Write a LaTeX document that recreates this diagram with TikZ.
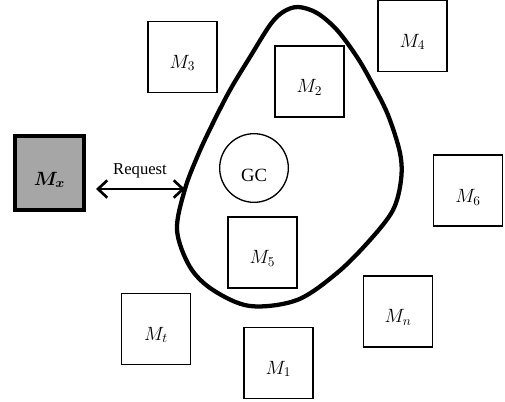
\documentclass[tikz,border=0pt]{standalone}
\usepackage{amsmath}
\usepackage{fontspec}
\setmainfont{Liberation Serif}
\usetikzlibrary{arrows.meta,calc}
\begin{document}
\begin{tikzpicture}[x=0.75pt,y=-0.75pt,
  mbox/.style={draw, line width=1.2pt, minimum width=52pt, minimum height=53pt, inner sep=0pt},
  mxbox/.style={draw, line width=3pt, fill=mxgray, minimum width=51.75pt, minimum height=55.5pt, inner sep=0pt},
  mlbl/.style={anchor=base, inner sep=0pt, font=\fontsize{14.5}{17}\selectfont},
  gcnode/.style={draw, circle, line width=1pt, minimum size=51.5pt, inner sep=0pt},
  txt/.style={anchor=base, inner sep=0pt},
  blob/.style={line width=3.2pt},
  reqarrow/.style={line width=2pt, {Straight Barb[length=7pt,width=13pt]}-{Straight Barb[length=7pt,width=13pt]}}
]
\definecolor{mxgray}{HTML}{A6A6A6}
\useasboundingbox (0,0) rectangle (505,401);

% boxes
\node[mxbox] (Mx) at (49.5,173) {};
\node[mbox] (M3) at (182.5,57) {};
\node[mbox] (M2) at (309.5,81.5) {};
\node[mbox] (M4) at (412.5,36) {};
\node[mbox] (M5) at (262.5,252.5) {};
\node[mbox] (M6) at (468,190.5) {};
\node[mbox] (Mn) at (398,311.5) {};
\node[mbox] (Mt) at (156,329) {};
\node[mbox] (M1) at (278.5,363) {};
\node[gcnode] (GC) at (254,168) {};

% labels
\node[mlbl] (LMx) at ($(Mx.center)+(0,12)$) {$\boldsymbol{M_x}$};
\node[mlbl] (L3) at ($(M3.center)+(0,11)$) {$M_3$};
\node[mlbl] (L2) at ($(M2.center)+(0,11)$) {$M_2$};
\node[mlbl] (L4) at ($(M4.center)+(0,11)$) {$M_4$};
\node[mlbl] (L5) at ($(M5.center)+(0,11)$) {$M_5$};
\node[mlbl] (L6) at ($(M6.center)+(0,12)$) {$M_6$};
\node[mlbl] (Ln) at ($(Mn.center)+(0,11)$) {$M_n$};
\node[mlbl] (Lt) at ($(Mt.center)+(0,11)$) {$M_t$};
\node[mlbl] (L1) at ($(M1.center)+(0,11)$) {$M_1$};
\node[txt, font=\fontsize{14}{16}\selectfont] (LGC) at ($(GC.center)+(0,13)$) {GC};

% blob
\draw[blob] plot[smooth cycle, tension=0.55] coordinates {
  (298,7) (317,13) (337,30) (357,57) (372,83) (388,115) (400,153) (401,180)
  (393,210) (370,240) (337,273) (297,300) (250,306) (213,290) (190,267)
  (177,230) (185,189) (198,155) (212,125) (230,90) (250,57) (270,25) (283,12)};

% request arrow
\coordinate (reqL) at (96,189);
\coordinate (reqR) at (185,189);
\draw[reqarrow] (reqL) -- (reqR);
\node[txt, font=\fontsize{12.5}{14}\selectfont] (Lreq) at (140,174) {Request};
\end{tikzpicture}
\end{document}
